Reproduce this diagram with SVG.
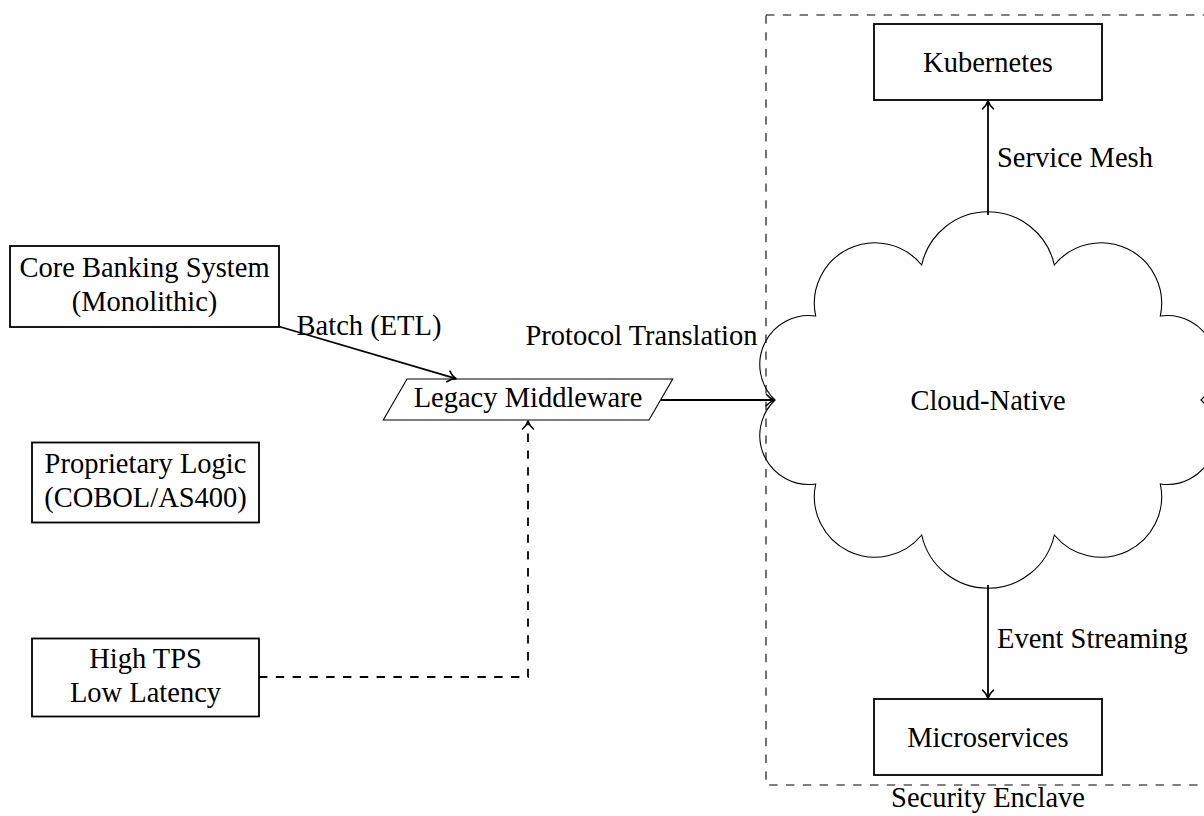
<svg xmlns="http://www.w3.org/2000/svg" width="1204" height="816" viewBox="0 0 1204 816">
<defs>
<style>
text{font-family:"Liberation Serif","DejaVu Serif",serif;font-size:28.5px;fill:#000}
.c{text-anchor:middle}
.box{fill:#fff;stroke:#000;stroke-width:1.8}
.thin{fill:none;stroke:#000;stroke-width:1.1}
.edge{fill:none;stroke:#000;stroke-width:1.8}
.dash{stroke-dasharray:8.4 8.4}
</style>
<marker id="arr" markerWidth="20" markerHeight="20" refX="0" refY="0" orient="auto" markerUnits="userSpaceOnUse" overflow="visible">
<path d="M -8 -5.5 C -5.5 -2.5 -2.5 -0.8 0 0 C -2.5 0.8 -5.5 2.5 -8 5.5" fill="none" stroke="#000" stroke-width="1.6" stroke-linecap="round" stroke-linejoin="round"/>
</marker>
</defs>
<rect width="1204" height="816" fill="#fff"/>

<g id="enclave">
<rect x="766" y="15" width="444" height="770" fill="none" stroke="#000" stroke-width="1.1" stroke-dasharray="8.4 8.4"/>
<text class="c" x="988" y="807">Security Enclave</text>
</g>

<g id="cloud">
<path class="thin" d="M 775 400 A 49 49 0 0 1 815.7 316 A 60.5 60.5 0 0 1 921.7 265 A 67.9 67.9 0 0 1 1054.3 265 A 60.5 60.5 0 0 1 1160.3 316 A 49 49 0 0 1 1201 400 A 49 49 0 0 1 1160.3 484 A 60.5 60.5 0 0 1 1054.3 535 A 67.9 67.9 0 0 1 921.7 535 A 60.5 60.5 0 0 1 815.7 484 A 49 49 0 0 1 775 400 Z"/>
<text class="c" x="988" y="409.5">Cloud-Native</text>
</g>

<g id="core">
<rect class="box" x="10" y="246" width="269" height="81"/>
<text class="c" x="144.5" y="276.5">Core Banking System</text>
<text class="c" x="144.5" y="310.5">(Monolithic)</text>
</g>

<g id="proprietary">
<rect class="box" x="32" y="442.5" width="227" height="80"/>
<text class="c" x="145.5" y="472.5">Proprietary Logic</text>
<text class="c" x="145.5" y="506.5">(COBOL/AS400)</text>
</g>

<g id="hightps">
<rect class="box" x="32" y="638.5" width="227" height="78"/>
<text class="c" x="145.5" y="667.5">High TPS</text>
<text class="c" x="145.5" y="701.5">Low Latency</text>
</g>

<g id="middleware">
<path d="M 407 379 L 672.7 379 L 649 420 L 383.3 420 Z" fill="#fff" stroke="#000" stroke-width="1.1"/>
<text class="c" x="528" y="406.5">Legacy Middleware</text>
</g>

<g id="kubernetes">
<rect class="box" x="874" y="24" width="228" height="76"/>
<text class="c" x="988" y="71.5">Kubernetes</text>
</g>

<g id="microservices">
<rect class="box" x="874" y="699" width="228" height="76"/>
<text class="c" x="988" y="746.5">Microservices</text>
</g>

<g id="connectors">
<line class="edge" x1="279" y1="326.5" x2="456" y2="378.7" marker-end="url(#arr)"/>
<text class="c" x="369" y="335">Batch (ETL)</text>
<line class="edge" x1="660.8" y1="400" x2="774.5" y2="400" marker-end="url(#arr)"/>
<text class="c" x="641.5" y="345">Protocol Translation</text>
<line class="edge" x1="988" y1="215" x2="988" y2="100.8" marker-end="url(#arr)"/>
<text x="997" y="166.5">Service Mesh</text>
<line class="edge" x1="988" y1="585" x2="988" y2="698.2" marker-end="url(#arr)"/>
<text x="997" y="648">Event Streaming</text>
<path class="edge dash" d="M 259 677 L 528 677 L 528 421" marker-end="url(#arr)"/>
</g>
</svg>
